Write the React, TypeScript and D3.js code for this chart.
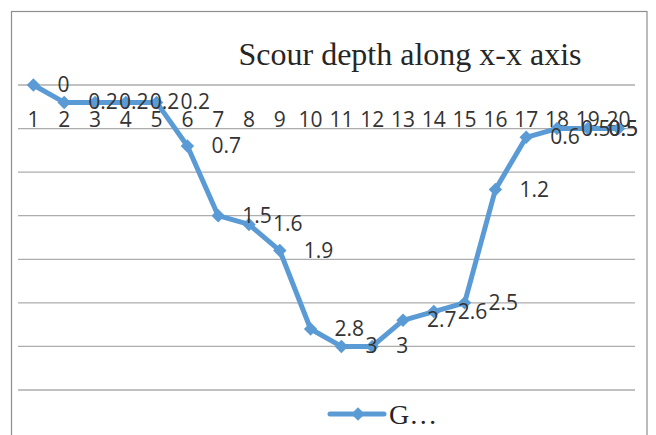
import * as d3 from 'd3';
import React, { useRef, useEffect } from 'react';

const categories = ["1", "2", "3", "4", "5", "6", "7", "8", "9", "10", "11", "12", "13", "14", "15", "16", "17", "18", "19", "20"];
const depths = [0, 0.2, 0.2, 0.2, 0.2, 0.7, 1.5, 1.6, 1.9, 2.8, 3, 3, 2.7, 2.6, 2.5, 1.2, 0.6, 0.5, 0.5, 0.5];
const yTicks = [0, 0.5, 1, 1.5, 2, 2.5, 3, 3.5];
const chartTitle = "Scour depth along x-x axis";
const seriesName = "G…";

function App(): any {
  const ref = useRef(null);
  const width = 656;
  const height = 435;
  const blue = "#5b9bd5";
  const labelFont = "'Open Sans', sans-serif";
  const serifFont = "'Liberation Serif', 'Times New Roman', serif";

  useEffect(() => {
    const svg = d3.select(ref.current);
    svg.selectAll("*").remove();

    const xScale = d3.scalePoint()
      .domain(categories)
      .range([18, 634])
      .padding(0.5);

    const yScale = d3.scaleLinear()
      .domain([0, 3.5])
      .range([85, 390]);

    svg.append("rect")
      .attr("width", width)
      .attr("height", height)
      .attr("fill", "#fff");

    // chart border (bottom edge is off the picture)
    svg.append("rect")
      .attr("x", 11.5)
      .attr("y", 11.5)
      .attr("width", 635.5)
      .attr("height", 460)
      .attr("fill", "none")
      .attr("stroke", "#8e8e8e")
      .attr("stroke-width", 1.2);

    svg.append("text")
      .attr("x", 410)
      .attr("y", 65)
      .attr("text-anchor", "middle")
      .style("font-family", serifFont)
      .style("font-size", "32px")
      .attr("fill", "#262626")
      .text(chartTitle);

    svg.append("g")
      .selectAll("line")
      .data(yTicks)
      .enter()
      .append("line")
      .attr("x1", 18)
      .attr("x2", 635)
      .attr("y1", (d: number) => yScale(d))
      .attr("y2", (d: number) => yScale(d))
      .attr("stroke", "#adadad")
      .attr("stroke-width", 1.3);

    svg.append("g")
      .selectAll("text")
      .data(categories)
      .enter()
      .append("text")
      .attr("x", (d: string) => xScale(d) || 0)
      .attr("y", 127)
      .attr("text-anchor", "middle")
      .style("font-family", labelFont)
      .style("font-size", "21px")
      .attr("fill", "#333")
      .text((d: string) => d);

    const line = d3.line<number>()
      .x((d, i) => xScale(categories[i]) || 0)
      .y((d) => yScale(d));

    svg.append("path")
      .datum(depths)
      .attr("d", line)
      .attr("fill", "none")
      .attr("stroke", blue)
      .attr("stroke-width", 5)
      .attr("stroke-linejoin", "round");

    const diamond = d3.symbol().type(d3.symbolDiamond2).size(115);

    svg.append("g")
      .selectAll("path")
      .data(depths)
      .enter()
      .append("path")
      .attr("d", diamond)
      .attr("transform", (d: number, i: number) =>
        "translate(" + (xScale(categories[i]) || 0) + "," + yScale(d) + ")")
      .attr("fill", blue);

    // data labels to the right, pulled back inside the chart near the edge
    svg.append("g")
      .selectAll("text")
      .data(depths)
      .enter()
      .append("text")
      .attr("x", (d: number, i: number) => (xScale(categories[i]) || 0) + 24)
      .attr("y", (d: number) => yScale(d) + 7)
      .style("font-family", labelFont)
      .style("font-size", "21px")
      .attr("fill", "#333")
      .text((d: number) => String(d))
      .each(function (this: any) {
        const x = +this.getAttribute("x");
        const w = this.getComputedTextLength();
        if (x + w > 638) this.setAttribute("x", String(638 - w));
      });

    // legend
    svg.append("line")
      .attr("x1", 330)
      .attr("x2", 384)
      .attr("y1", 414)
      .attr("y2", 414)
      .attr("stroke", blue)
      .attr("stroke-width", 5)
      .attr("stroke-linecap", "round");

    svg.append("path")
      .attr("d", diamond)
      .attr("transform", "translate(358,414)")
      .attr("fill", blue);

    svg.append("text")
      .attr("x", 389)
      .attr("y", 424)
      .style("font-family", serifFont)
      .style("font-size", "28px")
      .attr("fill", "#262626")
      .text(seriesName);
  }, []);

  return (
    <svg
      ref={ref}
      width={width}
      height={height}
      style={{ position: "absolute", left: 0, top: 0 }}
    />
  );
}

export default App;
